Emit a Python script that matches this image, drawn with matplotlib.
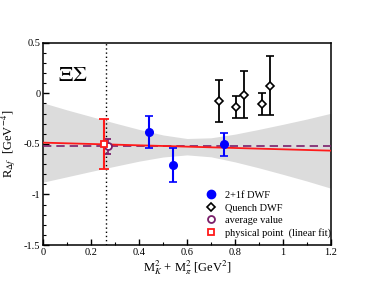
import numpy as np
import matplotlib.pyplot as plt
from matplotlib.ticker import MultipleLocator, FuncFormatter
from matplotlib.lines import Line2D

plt.rcParams['font.family'] = ['Liberation Serif', 'DejaVu Serif']
plt.rcParams['mathtext.fontset'] = 'stix'

# 2+1f DWF points
dwf_x = [0.441, 0.542, 0.754]
dwf_y = [-0.385, -0.708, -0.503]
dwf_err = [0.157, 0.165, 0.114]

# quenched DWF points
qu_x = [0.732, 0.806, 0.839, 0.913, 0.947]
qu_y = [-0.076, -0.135, -0.014, -0.105, 0.077]
qu_err = [0.212, 0.105, 0.231, 0.105, 0.290]

# average value and physical point
avg_x, avg_y, avg_err = 0.272, -0.525, 0.072
phys_x, phys_y, phys_err = 0.252, -0.500, 0.245
phys_line_x = 0.262

# linear fit and its error band
fit_x = [0.0, 1.2]
fit_y = [-0.488, -0.567]
band_x = [0.0, 0.1, 0.2, 0.3, 0.4, 0.5, 0.6, 0.7, 0.8, 0.9, 1.0, 1.1, 1.2]
band_hi = [-0.095, -0.165, -0.230, -0.295, -0.357, -0.412, -0.447,
           -0.440, -0.404, -0.357, -0.307, -0.255, -0.198]
band_lo = [-0.878, -0.825, -0.772, -0.721, -0.671, -0.630, -0.609,
           -0.628, -0.678, -0.737, -0.801, -0.867, -0.938]
avg_line = -0.522

purple = '#7a1f6a'
red = '#ff1a1a'

fig = plt.figure(figsize=(3.74, 2.89), dpi=100)
ax = fig.add_axes([0.1158, 0.1522, 0.7684, 0.7000])

ax.fill_between(band_x, band_lo, band_hi, color='#dcdcdc', lw=0, zorder=1)
ax.axvline(phys_line_x, color='black', ls=(0, (1, 2)), lw=1.0, zorder=2)
ax.axhline(avg_line, color=purple, ls=(0, (5, 3)), lw=1.2, zorder=3)
ax.plot(fit_x, fit_y, color=red, lw=1.3, zorder=4)

ax.errorbar(dwf_x, dwf_y, yerr=dwf_err, fmt='o', color='blue', ms=5.5,
            capsize=3, elinewidth=1.5, capthick=1.2, zorder=6)
ax.errorbar(qu_x, qu_y, yerr=qu_err, fmt='D', color='black', mfc='white',
            mec='black', mew=1.2, ms=4, capsize=3, elinewidth=1.3, capthick=1.2, zorder=6)
ax.errorbar([avg_x], [avg_y], yerr=[avg_err], fmt='o', color=purple, mfc='white',
            mew=1.3, ms=5, capsize=2.5, elinewidth=1.2, capthick=1.1, zorder=7)
ax.errorbar([phys_x], [phys_y], yerr=[phys_err], fmt='s', color=red, mfc='white',
            mew=1.3, ms=4.5, capsize=3.5, elinewidth=1.5, capthick=1.2, zorder=8)

ax.text(0.061, 0.17, r'$\Xi\Sigma$', fontsize=16, va='center', ha='left')

ax.set_xlim(0, 1.2)
ax.set_ylim(-1.5, 0.5)
ax.xaxis.set_major_locator(MultipleLocator(0.2))
ax.xaxis.set_minor_locator(MultipleLocator(0.1))
ax.yaxis.set_major_locator(MultipleLocator(0.5))
ax.yaxis.set_minor_locator(MultipleLocator(0.1))
fmt = FuncFormatter(lambda v, p: ('%g' % round(v, 2)))
ax.xaxis.set_major_formatter(fmt)
ax.yaxis.set_major_formatter(fmt)
ax.tick_params(which='both', direction='in', top=False, right=False, labelsize=7.5)
ax.tick_params(which='major', length=4, width=1.0, pad=2)
ax.tick_params(which='minor', length=2.5, width=0.8)
for s in ax.spines.values():
    s.set_linewidth(1.1)

ax.set_xlabel(r'M$_K^2$ + M$_\pi^2$ [GeV$^2$]', fontsize=9, labelpad=1)
ax.set_ylabel(r'R$_{\Delta f}$  [GeV$^{-4}$]', fontsize=9, labelpad=4)

handles = [
    Line2D([], [], ls='none', marker='o', color='blue', ms=6),
    Line2D([], [], ls='none', marker='D', mfc='white', mec='black', mew=1.2, ms=4),
    Line2D([], [], ls='none', marker='o', mfc='white', mec=purple, mew=1.3, ms=5),
    Line2D([], [], ls='none', marker='s', mfc='white', mec=red, mew=1.3, ms=4.5),
]
labels = ['2+1f DWF', 'Quench DWF', 'average value', 'physical point  (linear fit)']
ax.legend(handles, labels, loc='lower left', bbox_to_anchor=(0.54, 0.0),
          frameon=False, fontsize=7.5, handlelength=1.0, handletextpad=0.8,
          labelspacing=0.3, borderpad=0.2)

fig.savefig('out.png', dpi=100)
